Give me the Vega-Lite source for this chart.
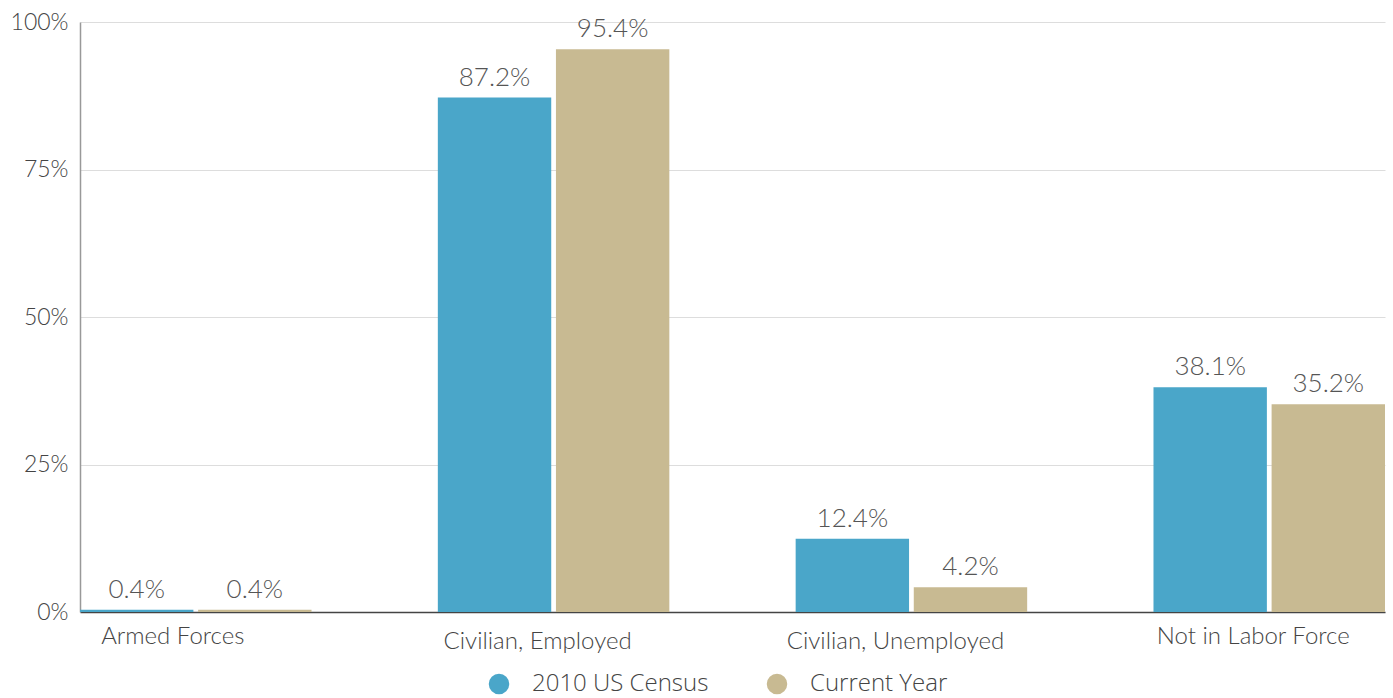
{
  "$schema": "https://vega.github.io/schema/vega-lite/v6.json",
  "width": 1305,
  "height": 590,
  "autosize": {"type": "none"},
  "padding": {"left": 80, "top": 22, "right": 8, "bottom": 86},
  "background": "white",
  "config": {
    "view": {"stroke": null},
    "font": "Lato"
  },
  "data": {
    "values": [
      {"category": "Armed Forces", "series": "2010 US Census", "value": 0.4},
      {"category": "Armed Forces", "series": "Current Year", "value": 0.4},
      {"category": "Civilian, Employed", "series": "2010 US Census", "value": 87.2},
      {"category": "Civilian, Employed", "series": "Current Year", "value": 95.4},
      {"category": "Civilian, Unemployed", "series": "2010 US Census", "value": 12.4},
      {"category": "Civilian, Unemployed", "series": "Current Year", "value": 4.2},
      {"category": "Not in Labor Force", "series": "2010 US Census", "value": 38.1},
      {"category": "Not in Labor Force", "series": "Current Year", "value": 35.2}
    ]
  },
  "encoding": {
    "x": {
      "field": "category",
      "type": "nominal",
      "sort": null,
      "scale": {"paddingInner": 0.353, "paddingOuter": 0},
      "axis": {
        "title": null,
        "labelAngle": 0,
        "labelFont": "Lato",
        "labelFontWeight": 300,
        "labelFontSize": 24,
        "labelColor": "#444",
        "labelOffset": {"condition": {"test": "datum.value === 'Armed Forces'", "value": -23}, "value": -16},
        "labelPadding": {"condition": {"test": "datum.value === 'Civilian, Employed' || datum.value === 'Civilian, Unemployed'", "value": 17}, "value": 12},
        "ticks": false,
        "domainColor": "#444",
        "domainWidth": 1.5,
        "labelLimit": 400
      }
    },
    "xOffset": {
      "field": "series",
      "type": "nominal",
      "scale": {"paddingInner": 0.04, "paddingOuter": 0}
    },
    "y": {
      "field": "value",
      "type": "quantitative",
      "scale": {"domain": [0, 100], "nice": false},
      "axis": {
        "title": null,
        "values": [0, 25, 50, 75, 100],
        "labelExpr": "datum.value + '%'",
        "labelFont": "Lato",
        "labelFontWeight": 300,
        "labelFontSize": 23,
        "labelColor": "#444",
        "labelPadding": 12,
        "ticks": false,
        "domain": true,
        "domainColor": "#999",
        "domainWidth": 1.5,
        "gridColor": "#dddddd",
        "gridWidth": 1
      }
    },
    "color": {
      "field": "series",
      "type": "nominal",
      "scale": {"domain": ["2010 US Census", "Current Year"], "range": ["#4AA6C9", "#C8BA92"]},
      "legend": {
        "title": null,
        "orient": "none",
        "legendX": 407,
        "legendY": 650,
        "direction": "horizontal",
        "columns": 2,
        "symbolType": "circle",
        "symbolSize": 420,
        "symbolStrokeWidth": 0,
        "labelFont": "Open Sans",
        "labelFontWeight": 300,
        "labelFontSize": 24,
        "labelColor": "#444",
        "labelOffset": 21,
        "columnPadding": 56,
        "labelLimit": 300
      }
    }
  },
  "layer": [
    {"mark": {"type": "bar"}},
    {
      "transform": [{"calculate": "format(datum.value, '.1f') + '%'", "as": "label"}],
      "mark": {
        "type": "text",
        "baseline": "alphabetic",
        "dy": -12,
        "font": "Lato",
        "fontWeight": 300,
        "fontSize": 26
      },
      "encoding": {
        "text": {"field": "label", "type": "nominal"},
        "color": {"value": "#555"}
      }
    }
  ]
}
